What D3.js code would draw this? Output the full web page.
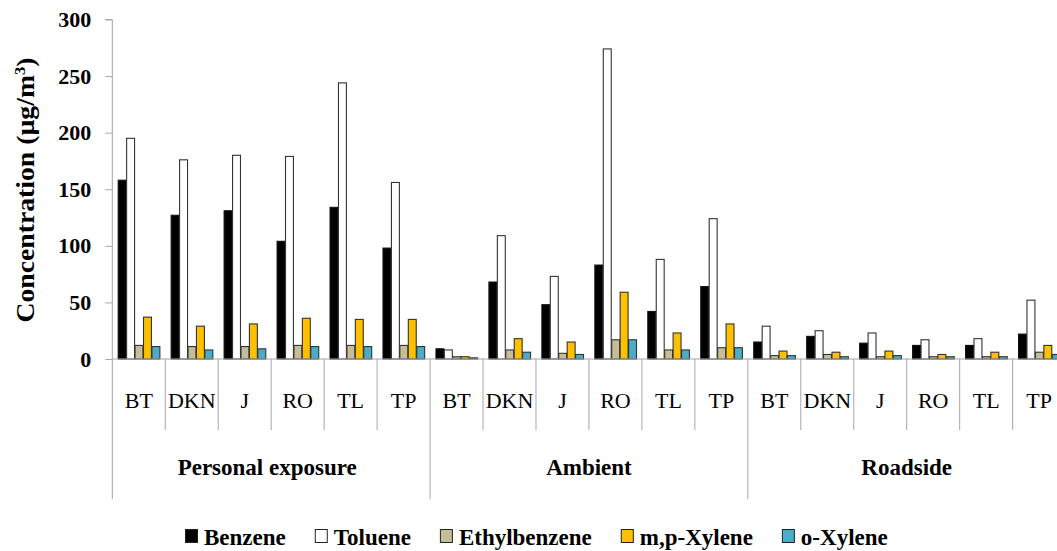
<!DOCTYPE html>
<html>
<head>
<meta charset="utf-8">
<script src="https://cdn.jsdelivr.net/npm/d3@7"></script>
<style>
  html, body { margin: 0; padding: 0; background: #ffffff; overflow: hidden; }
  svg { display: block; }
  text { font-family: "Liberation Serif", "Times New Roman", serif; fill: #000; }
</style>
</head>
<body>
<div id="chart"></div>
<script>
// ---- data ----
const groups = ["Personal exposure", "Ambient", "Roadside"];
const sites = ["BT", "DKN", "J", "RO", "TL", "TP"];
const seriesNames = ["Benzene", "Toluene", "Ethylbenzene", "m,p-Xylene", "o-Xylene"];
const seriesColors = ["#000000", "#ffffff", "#c4bd97", "#ffc000", "#4bacc6"];
const benzene      = [158, 127, 131, 104, 134, 98,   9, 68, 48, 83, 42, 64,   15, 20, 14, 12, 12, 22];
const toluene      = [195, 176, 180, 179, 244, 156,  8, 109, 73, 274, 88, 124, 29, 25, 23, 17, 18, 52];
const ethylbenzene = [12, 11, 11, 12, 12, 12,        2, 8, 5, 17, 8, 10,      3, 4, 2, 2, 2, 6];
const mpXylene     = [37, 29, 31, 36, 35, 35,        2, 18, 15, 59, 23, 31,   7, 6, 7, 4, 6, 12];
const oXylene      = [11, 8, 9, 11, 11, 11,          1, 6, 4, 17, 8, 10,      3, 2, 3, 2, 2, 4];
const yTicks = [0, 50, 100, 150, 200, 250, 300];
const yTitle = "Concentration (\u00b5g/m";

const seriesValues = [benzene, toluene, ethylbenzene, mpXylene, oXylene];

// categories: group x site
const categories = [];
groups.forEach(g => sites.forEach(s => categories.push({group: g, site: s, key: g + "|" + s})));

const W = 1057, H = 551;
const svg = d3.select("#chart").append("svg").attr("width", W).attr("height", H);

const x0 = d3.scaleBand().domain(categories.map(c => c.key)).range([112.3, 1065.6]).padding(0);
const bw = x0.bandwidth();
const x1 = d3.scaleBand().domain(seriesNames).range([5.4, bw - 5.4]).padding(0);
const y = d3.scaleLinear().domain([0, 300]).range([359, 19.5]);

const gridColor = "#a6a6a6";

// bars
const barsG = svg.append("g");
categories.forEach((c, ci) => {
  const g = barsG.append("g").attr("transform", `translate(${x0(c.key)},0)`);
  seriesNames.forEach((s, si) => {
    const v = seriesValues[si][ci];
    g.append("rect")
      .attr("x", x1(s) + 0.5)
      .attr("y", y(v))
      .attr("width", x1.bandwidth() - 0.5)
      .attr("height", y(0) - y(v))
      .attr("fill", seriesColors[si])
      .attr("stroke", si === 0 ? "#111" : "#333")
      .attr("stroke-width", 1.1);
  });
});

// y axis
const yAxis = d3.axisLeft(y).tickValues(yTicks).tickSize(7).tickPadding(14).tickFormat(d3.format("d"));
const yg = svg.append("g").attr("transform", "translate(112.3,0)").call(yAxis);
yg.select(".domain").attr("stroke", gridColor).attr("d", `M-7,${y(300)}H0V${y(0)}`);
yg.selectAll(".tick line").attr("stroke", gridColor);
yg.selectAll(".tick text")
  .style("font-family", "'Liberation Serif', serif")
  .style("font-size", "22px").style("font-weight", "bold").attr("fill", "#000");

// x axis baseline
svg.append("line").attr("x1", 112.3).attr("x2", 1070).attr("y1", y(0)).attr("y2", y(0))
  .attr("stroke", gridColor).attr("stroke-width", 1.2);

// separators
categories.forEach((c, ci) => {
  const xs = x0(c.key);
  const isGroupStart = ci % sites.length === 0;
  svg.append("line").attr("x1", xs).attr("x2", xs).attr("y1", y(0)).attr("y2", isGroupStart ? 499 : 430)
    .attr("stroke", gridColor).attr("stroke-width", 1);
});
// final group end line
svg.append("line").attr("x1", 1065.6).attr("x2", 1065.6).attr("y1", y(0)).attr("y2", 499)
  .attr("stroke", gridColor);

// site labels
categories.forEach(c => {
  svg.append("text")
    .attr("x", x0(c.key) + bw / 2).attr("y", 407.5)
    .attr("text-anchor", "middle")
    .style("font-size", "22px")
    .text(c.site);
});

// group labels
groups.forEach(g => {
  const first = x0(g + "|" + sites[0]);
  const last = x0(g + "|" + sites[sites.length - 1]) + bw;
  svg.append("text")
    .attr("x", (first + last) / 2 - (g === groups[0] ? 4 : 0)).attr("y", 475)
    .attr("text-anchor", "middle")
    .style("font-size", "23px").style("font-weight", "bold")
    .text(g);
});

// y title
const yt = svg.append("text")
  .attr("transform", "translate(34,190) rotate(-90)")
  .attr("text-anchor", "middle")
  .style("font-size", "25px").style("font-weight", "bold")
  .attr("textLength", 265).attr("lengthAdjust", "spacingAndGlyphs");
yt.append("tspan").text(yTitle);
yt.append("tspan").attr("dy", -9).style("font-size", "15px").text("3");
yt.append("tspan").attr("dy", 9).text(")");

// legend
const leg = svg.append("g");
let lx = 185;
seriesNames.forEach((s, si) => {
  leg.append("rect").attr("x", lx + 0.5).attr("y", 529.5).attr("width", 12).attr("height", 13)
    .attr("fill", seriesColors[si]).attr("stroke", "#222").attr("stroke-width", 1);
  const t = leg.append("text").attr("x", lx + 19).attr("y", 545)
    .style("font-size", "23px").style("font-weight", "bold").text(s);
  lx = lx + 19 + t.node().getComputedTextLength() + 29;
});
</script>
</body>
</html>
